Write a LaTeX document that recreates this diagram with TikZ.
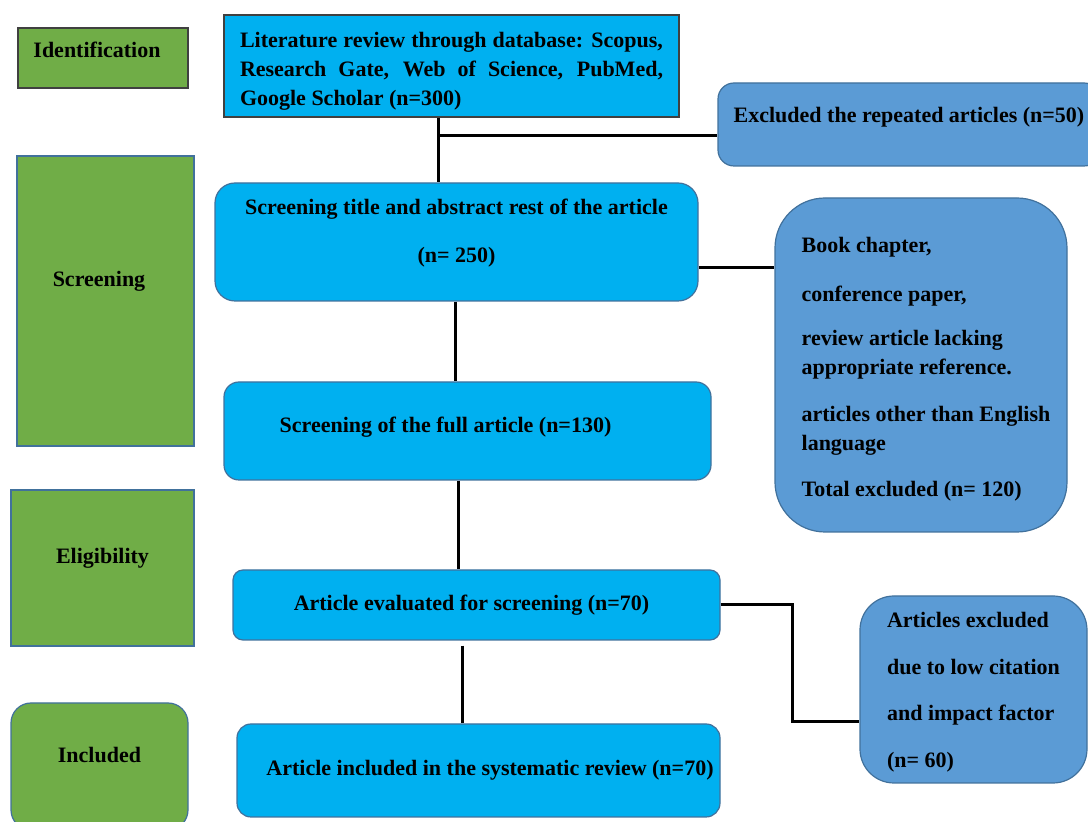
\documentclass[tikz,border=0pt]{standalone}
\usepackage{fontspec}
\setmainfont{Liberation Serif}
\definecolor{leafgreen}{RGB}{112,173,71}
\definecolor{skycyan}{RGB}{0,176,240}
\definecolor{steelblue}{RGB}{91,155,213}
\definecolor{edgeblue}{RGB}{65,113,156}
\definecolor{edgegray}{RGB}{64,64,64}

\begin{document}
\begin{tikzpicture}[x=0.5pt, y=-0.5pt,
    box/.style={draw=edgeblue, line width=0.6pt, inner sep=0pt, font=\fontsize{11}{14.5}\selectfont\bfseries},
    stage/.style={box, fill=leafgreen},
    main/.style={box, fill=skycyan},
    drop/.style={box, fill=steelblue},
    link/.style={line width=1.5pt}]
  \useasboundingbox (0,0) rectangle (1088,822);
  % stages on the left
  \node[stage, draw=edgegray, minimum width=85pt, minimum height=30pt, text depth=8pt] (ident) at (103,58) {Identification\hspace*{6pt}};
  \node[stage, minimum width=88.5pt, minimum height=145pt, text depth=22pt] (screen) at (105.5,301) {Screening\hspace*{6.5pt}};
  \node[stage, minimum width=91.5pt, minimum height=78pt, text depth=12pt] (elig) at (102.5,568) {Eligibility};
  \node[stage, rounded corners=10pt, minimum width=88.5pt, minimum height=63.5pt, text depth=12pt] (incl) at (99.5,766.5) {Included};
  % main flow
  \node[main, draw=edgegray, minimum width=227.5pt, minimum height=51pt, align=left] (lit) at (451.5,66)
    {\makebox[211.5pt][s]{\rule{0pt}{12.6pt}Literature review through database: Scopus,}\\
     \makebox[211.5pt][s]{Research Gate, Web of Science, PubMed,}\\
     Google Scholar (n=300)};
  \node[main, rounded corners=10pt, minimum width=241.5pt, minimum height=59pt, align=center, text depth=11pt] (title) at (456.5,242)
    {Screening title and abstract rest of the article\\[9.5pt] (n= 250)};
  \node[main, rounded corners=7.5pt, minimum width=243.5pt, minimum height=49pt, text depth=6pt] (full) at (467.5,431)
    {Screening of the full article (n=130)\hspace*{22pt}};
  \node[main, rounded corners=5pt, minimum width=243.5pt, minimum height=35pt] (eval) at (476.5,605)
    {Article evaluated for screening (n=70)\hspace*{5pt}};
  \node[main, rounded corners=7pt, minimum width=241.5pt, minimum height=46.5pt] (final) at (478.5,770.5)
    {\hspace*{11.5pt}Article included in the systematic review (n=70)};
  % excluded records
  \node[drop, rounded corners=8pt, minimum width=191pt, minimum height=41.5pt, text depth=10pt] (rep) at (909,124.5)
    {Excluded the repeated articles (n=50)};
  \node[drop, rounded corners=25pt, minimum width=146pt, minimum height=167pt] (book) at (921,365)
    {\begin{tabular}{@{\hspace{5pt}}l@{}}
     \rule{0pt}{13.6pt}Book chapter,\\[10pt] conference paper,\\[7.5pt] review article lacking\\ appropriate reference.\\[9pt]
     articles other than English\\ language\\[8.5pt] Total excluded (n= 120)
     \end{tabular}};
  \node[drop, rounded corners=17pt, minimum width=113.5pt, minimum height=93.5pt, align=left] (cut) at (973.5,689.5)
    {\rule{0pt}{10.6pt}Articles excluded\\[9pt] due to low citation\\[8.5pt] and impact factor\\[9pt] (n= 60)};
  % connectors
  \draw[link] ([xshift=-6.75pt]lit.south) -- ([xshift=-6.75pt]lit.south |- title.north);
  \draw[link] ([xshift=-6.75pt, yshift=-9pt]lit.south) -- ([yshift=-9pt]lit.south -| rep.west);
  \draw[link] ([yshift=-13pt]title.east) -- ([yshift=-13pt]title.east -| book.west);
  \draw[link] ([xshift=-0.75pt]title.south) -- ([xshift=-0.75pt]title.south |- full.north);
  \draw[link] ([xshift=-4.75pt]full.south) -- ([xshift=-4.75pt]full.south |- eval.north);
  \draw[link, shorten <=2.5pt] ([xshift=-7.25pt]eval.south) -- ([xshift=-7.25pt]eval.south |- final.north);
  \draw[link] (eval.east) -- ++(36pt,0) |- ([yshift=-16.25pt]cut.west);
\end{tikzpicture}
\end{document}
